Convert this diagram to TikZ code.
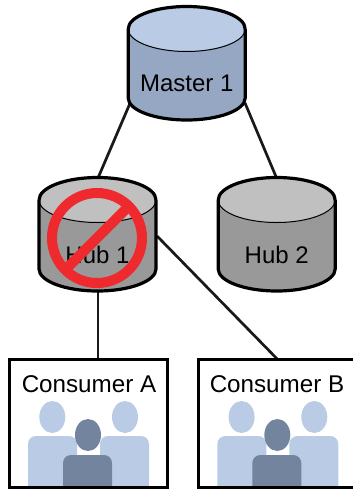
\documentclass[tikz,border=0pt]{standalone}
\usepackage{fontspec}
\setmainfont{Liberation Sans}
\definecolor{mbody}{HTML}{95A7C3}
\definecolor{mtop}{HTML}{B9CBE5}
\definecolor{hbody}{HTML}{999999}
\definecolor{htop}{HTML}{C0C0C0}
\definecolor{pdark}{HTML}{73849F}
\definecolor{pred}{HTML}{EE2A2E}
\tikzset{
  x=1pt,y=-1pt,
  link/.style={line width=2.7pt,color=black!90},
  lbl/.style={font=\fontsize{24}{26}\selectfont,text=black,inner sep=0pt},
  clbl/.style={font=\fontsize{24.2}{26}\selectfont,text=black,inner sep=0pt},
  boxnode/.style={inner sep=0pt,minimum width=158pt,minimum height=127pt},
  cylnode/.style={inner sep=0pt,minimum width=118pt,minimum height=114pt},
}
\newcommand{\cyl}[6]{% name, cx, top centre y, text, body, top
  \fill[#5] (#2-58.5,#3) -- (#2-58.5,#3+69) arc[x radius=58.5,y radius=22,start angle=180,end angle=0] -- (#2+58.5,#3) -- cycle;
  \fill[#6] (#2,#3) ellipse[x radius=58.5,y radius=22.5];
  \draw[line width=1pt] (#2-58.5,#3) arc[x radius=58.5,y radius=22.5,start angle=180,end angle=0];
  \draw[line width=3.2pt] (#2-58.5,#3) arc[x radius=58.5,y radius=22.5,start angle=180,end angle=360];
  \draw[line width=3.2pt] (#2-58.5,#3) -- (#2-58.5,#3+69) arc[x radius=58.5,y radius=22,start angle=180,end angle=0] -- (#2+58.5,#3);
  \node[cylnode] (#1) at (#2,#3+34) {};
  \node[lbl] (#1t) at (#2,#3+54.5) {#4};
}
\newcommand{\people}[1]{% x offset
  \begin{scope}[xshift=#1pt]
    \clip (0,361) rectangle (353,486);
    \fill[mtop] (52.3,417) ellipse[x radius=13,y radius=16];
    \fill[mtop] (125,417) ellipse[x radius=13,y radius=16];
    \fill[mtop,rounded corners=8pt] (28,500) -- (28,436) -- (77,436) -- (77,500) -- cycle;
    \fill[mtop,rounded corners=8pt] (100,500) -- (100,436) -- (149,436) -- (149,500) -- cycle;
    \fill[pdark] (88,435) ellipse[x radius=13,y radius=16];
    \fill[pdark,rounded corners=8pt] (63,500) -- (63,455) -- (112,455) -- (112,500) -- cycle;
  \end{scope}
}
\begin{document}
\begin{tikzpicture}
\useasboundingbox (0,0) rectangle (353,493);
\clip (0,0) rectangle (353,493);
\coordinate (ma) at (131,101);
\coordinate (mb) at (245,103);
\coordinate (ha) at (98,178);
\coordinate (hb) at (277,179);
\coordinate (hc) at (98,292);
\coordinate (hd) at (157,236);
\node[boxnode] (ca) at (88.5,423.5) {};
\node[boxnode] (cb) at (278,423.5) {};
\draw[link] (ma) -- (ha);
\draw[link] (mb) -- (hb);
\draw[link] (hc) -- (ca.north -| hc);
\draw[link] (hd) -- (cb.north);
\cyl{master}{186.7}{29}{Master 1}{mbody}{mtop}
\cyl{huba}{97.5}{200}{Hub 1}{hbody}{htop}
\cyl{hubb}{276.7}{200}{Hub 2}{hbody}{htop}
\people{0}
\people{189.3}
\draw[line width=3pt] (ca.north west) rectangle (ca.south east);
\draw[line width=3pt] (cb.north west) rectangle (cb.south east);
\node[clbl] (la) at (89,384) {Consumer A};
\node[clbl] (lb) at (277,384) {Consumer B};
\draw[pred,line width=10pt] (97,238) circle[radius=45];
\draw[pred,line width=10pt] (65,270) -- (129,206);
\end{tikzpicture}
\end{document}
